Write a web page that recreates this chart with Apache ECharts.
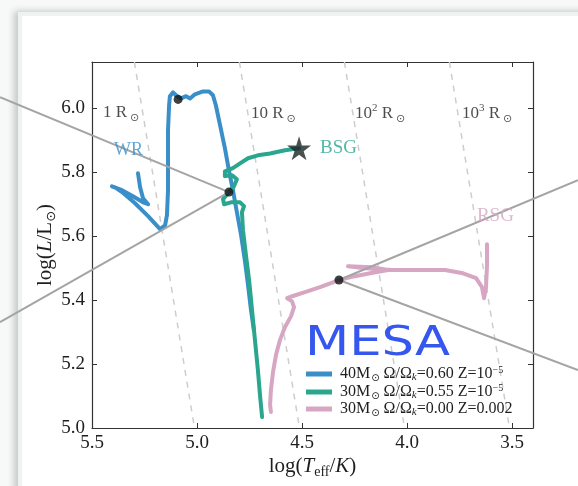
<!DOCTYPE html>
<html><head><meta charset="utf-8">
<script src="https://cdn.jsdelivr.net/npm/echarts@6/dist/echarts.min.js"></script>
<style>
html,body{margin:0;padding:0;width:578px;height:486px;overflow:hidden;background:#f7f8f8;}
#card{position:absolute;left:18px;top:12px;width:700px;height:600px;background:#fff;border-left:4px solid #edf2f2;border-top:4px solid #edf2f2;box-shadow:-4px -1px 7px rgba(0,0,0,0.2);}
#chart{position:absolute;left:0;top:0;width:578px;height:486px;}
</style></head><body>
<div id="card"></div><div id="chart"></div>
<script>
// ---- axes ----
const xMin = 3.4, xMax = 5.5;
const yMin = 5.0, yMax = 6.145;
const xTicks = [3.5, 4.0, 4.5, 5.0, 5.5];
const yTicks = [5.0, 5.2, 5.4, 5.6, 5.8, 6.0];

// ---- tracks: [log Teff, log L] ----
const track40 = [[4.729,5.306],[4.743,5.369],[4.757,5.447],[4.771,5.519],[4.790,5.603],[4.810,5.675],[4.829,5.744],[4.848,5.806],[4.867,5.875],[4.890,5.947],[4.910,6.009],[4.924,6.041],[4.943,6.053],[4.971,6.053],[5.010,6.044],[5.033,6.031],[5.052,6.038],[5.076,6.031],[5.100,6.041],[5.114,6.050],[5.129,6.038],[5.133,6.009],[5.138,5.931],[5.138,5.838],[5.138,5.744],[5.143,5.666],[5.152,5.634],[5.176,5.622],[5.233,5.663],[5.295,5.703],[5.357,5.738],[5.390,5.753],[5.405,5.756],[5.357,5.744],[5.305,5.725],[5.257,5.706],[5.233,5.700],[5.257,5.719],[5.271,5.753],[5.281,5.797]];
const track30rot = [[4.690,5.034],[4.700,5.103],[4.710,5.181],[4.724,5.275],[4.738,5.369],[4.752,5.463],[4.767,5.541],[4.781,5.619],[4.786,5.675],[4.776,5.694],[4.795,5.706],[4.838,5.706],[4.871,5.700],[4.876,5.716],[4.848,5.738],[4.824,5.756],[4.810,5.778],[4.833,5.791],[4.867,5.788],[4.867,5.803],[4.829,5.813],[4.795,5.828],[4.757,5.844],[4.710,5.853],[4.652,5.859],[4.581,5.869],[4.514,5.875]];
const track30 = [[4.648,5.050],[4.652,5.072],[4.648,5.119],[4.638,5.175],[4.624,5.228],[4.605,5.275],[4.581,5.316],[4.552,5.350],[4.538,5.378],[4.548,5.397],[4.571,5.406],[4.543,5.413],[4.486,5.425],[4.414,5.441],[4.324,5.463],[4.248,5.475],[4.176,5.484],[4.090,5.494],[4.167,5.503],[4.281,5.506],[4.200,5.500],[4.071,5.494],[3.938,5.494],[3.819,5.494],[3.733,5.484],[3.671,5.469],[3.643,5.441],[3.633,5.406],[3.624,5.438],[3.619,5.509],[3.619,5.575]];

// constant-radius lines (log Teff at top and bottom of the frame)
const radiusNames = ['1', '10', '10', '10'];
const radiusPow = ['', '', '2', '3'];
const radiusTopT = [5.298, 4.798, 4.298, 3.798];
const radiusBottomT = [5.012, 4.512, 4.012, 3.512];

// marked points
const dots = [[5.090,6.028],[4.848,5.738],[4.324,5.463]];
const star = [[4.514,5.875]];
// pointer lines (from off-frame to marked points)
const pointer1 = [[5.938,6.035],[4.848,5.738]];
const pointer2 = [[5.938,5.331],[4.848,5.738]];
const pointer3 = [[4.324,5.463],[3.186,5.775]];
const pointer4 = [[4.324,5.463],[3.186,5.181]];

// annotation anchors (left edge, middle)
const radiusLabelPos = [[5.448,5.988],[4.743,5.984],[4.248,5.984],[3.738,5.984]];
const phaseLabels = ['WR', 'BSG', 'RSG'];
const phaseLabelPos = [[5.395,5.869],[4.414,5.875],[3.667,5.6625]];
const mesaPos = [4.486, 5.262];

const serif = '"Liberation Serif","DejaVu Serif",serif';
const blue = '#3a8fc9', green = '#2aa58e', pink = '#d6a6c3';
const ink = '#1e1e1e';

const legendNames = ['m40', 'm30r', 'm30'];
const legendText = {
  m40: '{t|40M}{s|⊙}{t| Ω/Ω}{k|k}{t|=0.60 Z=10}{p|−5}',
  m30r: '{t|30M}{s|⊙}{t| Ω/Ω}{k|k}{t|=0.55 Z=10}{p|−5}',
  m30: '{t|30M}{s|⊙}{t| Ω/Ω}{k|k}{t|=0.00 Z=0.002}'
};
const legendRich = {
  t: {fontFamily: serif, fontSize: 16, color: ink, lineHeight: 18},
  s: {fontFamily: '"DejaVu Sans"', fontSize: 10, color: ink, verticalAlign: 'bottom', padding: [0,0,0,1]},
  k: {fontFamily: serif, fontStyle: 'italic', fontSize: 11, color: ink, verticalAlign: 'bottom'},
  p: {fontFamily: serif, fontSize: 10, color: ink, verticalAlign: 'top'}
};

function xAxis(pos, showLabel) {
  return {
    type: 'value', min: xMin, max: xMax, inverse: true, position: pos, gridIndex: 0,
    axisLine: {show: true, onZero: false, lineStyle: {color: '#333', width: 1.2}},
    axisTick: {show: true, inside: true, length: 5, customValues: xTicks, lineStyle: {color: '#333', width: 1}},
    axisLabel: {show: showLabel, customValues: xTicks, formatter: v => v.toFixed(1), fontFamily: serif, fontSize: 19, color: ink, margin: 6},
    splitLine: {show: false}
  };
}
function yAxis(pos, showLabel) {
  return {
    type: 'value', min: yMin, max: yMax, position: pos, gridIndex: 0,
    axisLine: {show: true, onZero: false, lineStyle: {color: '#333', width: 1.2}},
    axisTick: {show: true, inside: true, length: 5, customValues: yTicks, lineStyle: {color: '#333', width: 1}},
    axisLabel: {show: showLabel, customValues: yTicks, formatter: v => v.toFixed(1), fontFamily: serif, fontSize: 19, color: ink, margin: 7},
    splitLine: {show: false}
  };
}
const nameRich = {
  a: {fontFamily: serif, fontSize: 21, color: ink, lineHeight: 26},
  i: {fontFamily: serif, fontSize: 21, fontStyle: 'italic', color: ink, lineHeight: 26},
  s: {fontFamily: '"DejaVu Sans"', fontSize: 13, color: ink, verticalAlign: 'bottom'},
  e: {fontFamily: serif, fontSize: 14, color: ink, verticalAlign: 'bottom'}
};
const xa0 = xAxis('bottom', true);
xa0.name = '{a|log(}{i|T}{e|eff}{a|/}{i|K}{a|)}';
xa0.nameLocation = 'middle'; xa0.nameGap = 25; xa0.nameMoveOverlap = false;
xa0.nameTextStyle = {rich: nameRich};
const ya0 = yAxis('left', true);
ya0.name = '{a|log(}{i|L}{a|/L}{s|⊙}{a|)}';
ya0.nameLocation = 'middle'; ya0.nameGap = 34; ya0.nameRotate = 90; ya0.nameMoveOverlap = false;
ya0.nameTextStyle = {rich: nameRich};

const series = [];
radiusTopT.forEach((t, i) => {
  series.push({type: 'line', name: 'r' + i, data: [[radiusTopT[i], yMax], [radiusBottomT[i], yMin]],
    showSymbol: false, silent: true, z: 1,
    lineStyle: {color: '#cdcdcd', width: 1.5, type: [6, 6]}});
});
function track(name, data, color) {
  return {type: 'line', name: name, data: data, showSymbol: false, silent: true, z: 2,
    itemStyle: {color: color},
    lineStyle: {color: color, width: 4, cap: 'round', join: 'round'}};
}
series.push(track('m40', track40, blue));
series.push(track('m30r', track30rot, green));
series.push(track('m30', track30, pink));
series.push({type: 'scatter', name: 'dots', data: dots, symbolSize: 9, silent: true, z: 4,
  itemStyle: {color: '#111'}});
series.push({type: 'scatter', name: 'star', data: star, silent: true, z: 4, symbolSize: 24,
  symbol: 'path://M50,0 L61.2,34.5 L97.6,34.5 L68.2,55.9 L79.4,90.5 L50,69.1 L20.6,90.5 L31.8,55.9 L2.4,34.5 L38.8,34.5 Z',
  itemStyle: {color: '#1a2424'}});

const annRich = {
  n: {fontFamily: serif, fontSize: 17, color: ink, lineHeight: 22},
  p: {fontFamily: serif, fontSize: 11, color: ink, verticalAlign: 'top'},
  s: {fontFamily: '"DejaVu Sans"', fontSize: 11, color: ink, verticalAlign: 'bottom', padding: [0,0,0,3]}
};
const annData = radiusLabelPos.map((p, i) => ({
  value: p,
  label: {formatter: '{n|' + radiusNames[i] + '}' + (radiusPow[i] ? '{p|' + radiusPow[i] + '}' : '') + '{n| R}{s|⊙}'}
}));
const phaseColors = [blue, green, pink];
const phaseSizes = [18, 19, 19];
phaseLabelPos.forEach((p, i) => {
  annData.push({value: p, label: {formatter: phaseLabels[i], color: phaseColors[i], fontFamily: serif, fontSize: phaseSizes[i]}});
});
series.push({type: 'scatter', name: 'ann', data: annData, symbolSize: 0, silent: true, z: 5,
  label: {show: true, position: 'right', distance: 0, rich: annRich}});

const option = {
  animation: false,
  grid: {left: 92, right: 45, top: 62, bottom: 58},
  xAxis: [xa0, xAxis('top', false)],
  yAxis: [ya0, yAxis('right', false)],
  legend: {
    data: legendNames, orient: 'vertical', left: 301, top: 360,
    icon: 'rect', itemWidth: 26, itemHeight: 5, itemGap: 0, selectedMode: false,
    formatter: n => legendText[n],
    textStyle: {rich: legendRich, padding: [0,0,0,3]}
  },
  series: series
};
const chart = echarts.init(document.getElementById('chart'));
chart.setOption(option);
const toPx = p => chart.convertToPixel({gridIndex: 0}, p);
const graphics = [pointer1, pointer2, pointer3, pointer4].map(seg => {
  const a = toPx(seg[0]), b = toPx(seg[1]);
  return {type: 'line', z: 3, silent: true,
    shape: {x1: a[0], y1: a[1], x2: b[0], y2: b[1]},
    style: {stroke: '#a4a4a4', lineWidth: 2}};
});
const mp = toPx(mesaPos);
graphics.push({
  type: 'text', x: mp[0], y: mp[1], scaleX: 1.25, z: 10, silent: true,
  style: {text: 'MESA', x: 0, y: 0, fontFamily: '"DejaVu Sans"', fontSize: 41, fill: '#3557ee', align: 'left', verticalAlign: 'middle'}
});
chart.setOption({graphic: graphics});
</script>
</body></html>
